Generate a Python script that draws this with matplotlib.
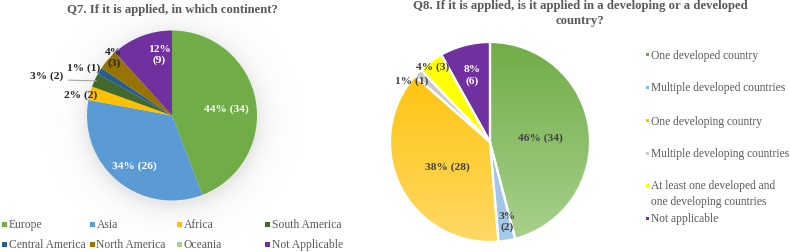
import numpy as np
import matplotlib
matplotlib.use("Agg")
import matplotlib.pyplot as plt
from matplotlib.colors import LinearSegmentedColormap
from matplotlib.patches import Rectangle

# ---------------- data ----------------
q7_title = "Q7. If it is applied, in which continent?"
q7_labels = ["Europe", "Asia", "Africa", "South America",
             "Central America", "North America", "Oceania", "Not Applicable"]
q7_counts = [34, 26, 2, 2, 1, 3, 0, 9]
q7_pcts = [44, 34, 2, 3, 1, 4, 0, 12]

q8_title = "Q8. If it is applied, is it applied in a developing or a developed\ncountry?"
q8_labels = ["One developed country", "Multiple developed countries",
             "One developing country", "Multiple developing countries",
             "At least one developed and\none developing countries", "Not applicable"]
q8_counts = [34, 2, 28, 1, 3, 6]
q8_pcts = [46, 3, 38, 1, 4, 8]

# ---------------- style ----------------
q7_colors = ["#70AD47", "#5B9BD5", "#FFC000", "#43682B",
             "#255E91", "#997300", "#A9D18E", "#7030A0"]
q8_top = ["#70AD47", "#8FB8E0", "#FFC000", "#C8C8C8", "#FFFF00", "#7030A0"]
q8_bot = ["#A9D18E", "#A9CBEA", "#FFD966", "#D9D9D9", "#FFFF00", "#7030A0"]

SERIF = ["Liberation Serif", "DejaVu Serif"]
GRAY = "#595959"

W, H = 790, 253
fig = plt.figure(figsize=(W / 100, H / 100), dpi=100)
ax = fig.add_axes([0, 0, 1, 1])
ax.set_xlim(0, W)
ax.set_ylim(0, H)
ax.set_aspect("equal")
ax.axis("off")

def Y(y):
    return H - y

# ---------- left pie ----------
c1 = (172, Y(116.5))
r1 = 85

# soft shadow halo
n = 400
ext = r1 * 1.5
xs = np.linspace(-ext, ext, n)
XX, YY = np.meshgrid(xs, xs)
D = np.hypot(XX, YY + 4)
alpha = np.clip(np.exp(-np.maximum(D - r1, 0) / 11.0) * 0.22, 0, 1)
alpha[D < r1] = 0.22
img = np.zeros((n, n, 4))
img[..., :3] = 0.6
img[..., 3] = alpha
ax.imshow(img, extent=[c1[0] - ext, c1[0] + ext, c1[1] - ext, c1[1] + ext],
          origin="lower", zorder=0, interpolation="bilinear")

wedges1, _ = ax.pie(q7_counts, colors=q7_colors, startangle=90, counterclock=False,
                    center=c1, radius=r1, frame=True,
                    wedgeprops=dict(linewidth=0))
for w in wedges1:
    w.set_zorder(2)

# label placement (radius factor, angle deg, two-line flag, color)
q7_lab = [(0.64, 7.9, False, "white"),
          (0.73, 233, False, "white"),
          (1.11, 166.8, False, "#262626"),
          (1.55, 162.0, False, "#262626"),
          (1.19, 151.4, False, "#262626"),
          (0.97, 134.8, True, "#262626"),
          None,
          (0.74, 101.9, True, "white")]
for i, spec in enumerate(q7_lab):
    if spec is None or q7_counts[i] == 0:
        continue
    f, ang, two, col = spec
    sep = "\n" if two else " "
    x = c1[0] + f * r1 * np.cos(np.radians(ang))
    y = c1[1] + f * r1 * np.sin(np.radians(ang))
    ax.text(x, y, f"{q7_pcts[i]}%{sep}({q7_counts[i]})", ha="center", va="center",
            family=SERIF, fontweight="bold", fontsize=8.2, color=col,
            linespacing=1.25, zorder=5)
# leader line for South America
w = wedges1[3]
mid = np.radians((w.theta1 + w.theta2) / 2)
ax.plot([c1[0] + 1.47 * r1 * np.cos(np.radians(162.6)) + 16, c1[0] + 0.98 * r1 * np.cos(mid)],
        [c1[1] + 1.47 * r1 * np.sin(np.radians(162.6)) - 2, c1[1] + 0.98 * r1 * np.sin(mid)],
        color="#A6A6A6", lw=0.8, zorder=4)

ax.text(c1[0], Y(10), q7_title, ha="center", va="center", family=SERIF,
        fontweight="bold", fontsize=9.2, color=GRAY)

# legend left (4 columns, equal widths)
for i, lab in enumerate(q7_labels):
    col, row = i % 4, i // 4
    x0 = 2 + col * 87.5
    y0 = Y(225 + row * 20)
    ax.add_patch(Rectangle((x0, y0 - 2.5), 5, 5, color=q7_colors[i], lw=0))
    ax.text(x0 + 7, y0, lab, ha="left", va="center", family=SERIF,
            fontsize=8.4, color=GRAY)

# ---------- right pie ----------
c2 = (490, Y(143))
r2 = 100
wedges2, _ = ax.pie(q8_counts, colors=q8_top, startangle=90, counterclock=False,
                    center=c2, radius=r2, frame=True,
                    wedgeprops=dict(linewidth=0))
grad = np.linspace(0, 1, 256).reshape(-1, 1)
for i, w in enumerate(wedges2):
    cmap = LinearSegmentedColormap.from_list("g%d" % i, [q8_bot[i], q8_top[i]])
    im = ax.imshow(grad, extent=[c2[0] - r2, c2[0] + r2, c2[1] - r2, c2[1] + r2],
                   origin="lower", cmap=cmap, zorder=2, aspect="auto")
    im.set_clip_path(w)
    w.set_facecolor("none")
    w.set_edgecolor("white")
    w.set_linewidth(1.6)
    w.set_zorder(3)

q8_lab = [(0.51, 5.6, False, "#404040"),
          (0.81, -77.9, True, "#404040"),
          (0.49, 209.2, False, "#404040"),
          (1.0, 141.9, False, "#404040"),
          (0.95, 126.9, False, "#404040"),
          (0.70, 104.8, True, "white")]
for i, (f, ang, two, col) in enumerate(q8_lab):
    sep = "\n" if two else " "
    x = c2[0] + f * r2 * np.cos(np.radians(ang))
    y = c2[1] + f * r2 * np.sin(np.radians(ang))
    ax.text(x, y, f"{q8_pcts[i]}%{sep}({q8_counts[i]})", ha="center", va="center",
            family=SERIF, fontweight="bold", fontsize=8.2, color=col,
            linespacing=1.25, zorder=5)

ax.text(580, Y(13.5), q8_title, ha="center", va="center", family=SERIF,
        fontweight="bold", fontsize=9.2, color=GRAY, linespacing=1.35)

# legend right (vertical)
rows = [55, 88, 121, 154, 186, 219]
for i, lab in enumerate(q8_labels):
    y0 = Y(rows[i])
    ax.add_patch(Rectangle((646, y0 - 1.5), 3, 3, color=q8_top[i], lw=0))
    ax.text(651, y0 + 5.5, lab, ha="left", va="top", family=SERIF,
            fontsize=8.3, color=GRAY, linespacing=1.4)

ax.set_xlim(0, W)
ax.set_ylim(0, H)
ax.axis("off")
fig.savefig("out.png", dpi=100)
